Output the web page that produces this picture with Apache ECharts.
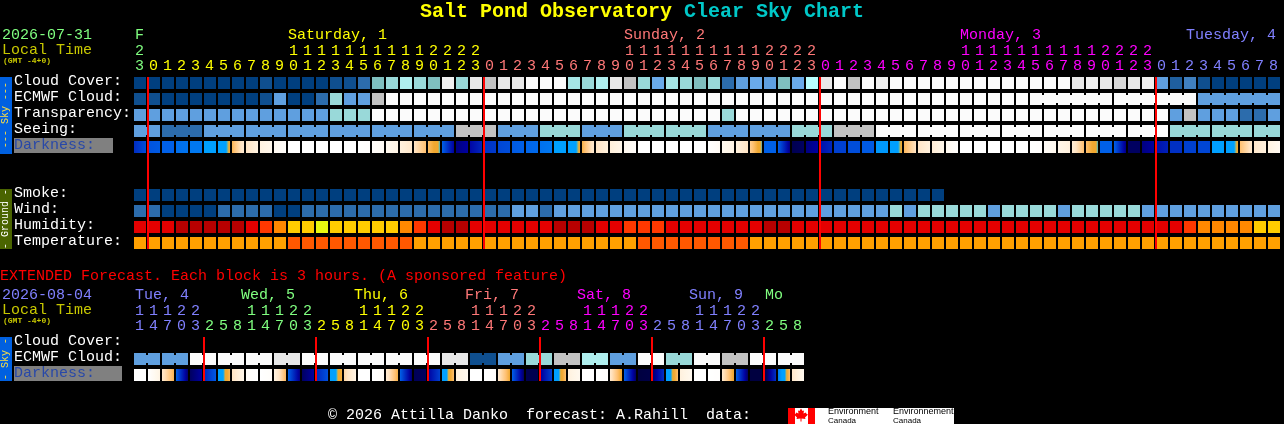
<!DOCTYPE html>
<html><head><meta charset="utf-8">
<style>html,body{margin:0;padding:0;background:#000;overflow:hidden}#c{width:1284px;height:424px}</style>
<script src="https://cdn.jsdelivr.net/npm/echarts@6/dist/echarts.min.js"></script>
</head><body><div id="c"></div>
<script>
// ---------- top forecast data (one entry per hour block) ----------
const rowNames = ["Cloud Cover:","ECMWF Cloud:","Transparency:","Seeing:","Darkness:","","","Smoke:","Wind:","Humidity:","Temperature:"];
const hourOnes = "3012345678901234567890123012345678901234567890123012345678901234567890123012345678".split("");
const hourTens = "2          11111111112222          11111111112222          11111111112222         ".split("");
const dayStarts = [1,25,49,73];
const cloudCover = [0,0,0,0,0,0,0,0,0,10,0,0,0,0,10,10,20,50,60,70,60,50,95,60,90,80,90,90,100,100,100,65,60,70,90,80,60,45,65,60,50,60,20,40,45,40,50,45,75,90,100,80,100,95,100,100,100,100,100,100,100,100,100,100,100,100,100,90,95,90,85,90,95,40,15,30,10,0,0,0,0,0];
const ecmwfCloud = [10,10,0,0,0,0,0,0,0,10,40,0,0,20,60,40,40,80,100,100,100,100,100,100,100,100,100,100,100,100,100,100,100,100,100,100,100,100,100,100,100,100,100,100,100,100,100,100,100,100,100,100,100,100,100,100,100,100,100,100,100,100,100,100,100,100,100,100,100,100,100,100,100,100,100,100,40,40,40,40,40,40];
const ecmwfBlocks = [1,1,1,1,1,1,1,1,1,1,1,1,1,1,1,1,1,1,1,1,1,1,1,1,1,1,1,1,1,1,1,1,1,1,1,1,1,1,1,1,1,1,1,1,1,1,1,1,1,1,1,1,1,1,1,1,1,1,1,1,1,1,1,1,6,6,6];
const transparency = [40,40,40,40,40,40,40,40,40,40,40,40,40,40,60,60,60,100,100,100,100,100,100,100,100,100,100,100,100,100,100,100,100,100,100,100,100,100,100,100,100,100,60,100,100,100,100,100,100,100,100,100,100,100,100,100,100,100,100,100,100,100,100,100,100,100,100,100,100,100,100,100,100,100,40,80,40,40,40,20,20,40];
const seeing = [40,40,20,20,20,40,40,40,40,40,40,40,40,40,40,40,40,40,40,40,40,40,40,80,80,80,40,40,40,60,60,60,40,40,40,60,60,60,60,60,60,40,40,40,40,40,40,60,60,60,80,80,80,100,100,100,100,100,100,100,100,100,100,100,100,100,100,100,100,100,100,100,100,100,60,60,60,60,60,60,60,60];
const seeingBlocks = [2,3,3,3,3,3,3,3,3,3,3,3,3,3,3,3,3,3,3,3,3,3,3,3,3,3,3,2];
const darkStart = [8.6,7.4,7,6.4,6,5,5,3.3,2,1.1,0.5,0,0,0,0,0,0,0.2,0.6,1.2,2,3.1,7,10.5,9.8,8.4,7.8,7.2,6.8,6.3,5,5,3.4,2,1.3,0.6,0,0,0,0,0,0,0.6,1.2,2.6,7,7,11.5,10.5,9.5,8,7.6,7.2,5.2,5,3.2,1.9,1.5,0.6,0,0,0,0,0,0,0.3,0.8,1.5,3,7,7,11,10.5,9.5,8.5,8,7.8,5,5,3,1.8,1.1];
const darkEnd = [7.6,7.2,7,6.2,6,5,3.8,1.6,1.1,0.7,0.2,0,0,0,0,0,0.1,0.4,1,1.8,3,4.1,10,10,8.8,8.2,7.6,7,6.6,6,5,3.8,1.7,1.2,0.8,0.2,0,0,0,0,0,0.4,1,2,4.1,7,10.5,11,10,8.8,8,7.6,7.2,5.2,3.8,2,1.2,0.8,0.1,0,0,0,0,0,0.1,0.6,1.2,3,4.1,7,10.5,11,10,9,8.5,8,7.8,5,3.8,1.8,1.2,0.5];
const smoke = [0,0,0,0,0,0,0,0,0,0,0,0,0,0,0,0,0,0,0,0,0,0,0,0,0,0,0,0,0,0,0,0,0,0,0,0,0,0,0,0,0,0,0,0,0,0,0,0,0,0,0,0,0,0,0,0,0,0,null,null,null,null,null,null,null,null,null,null,null,null,null,null,null,null,null,null,null,null,null,null,null,null];
const wind = [20,20,0,0,0,0,20,20,20,20,0,0,20,20,20,20,20,20,20,20,20,20,20,20,20,20,20,40,40,20,40,40,40,40,40,40,40,40,40,40,40,40,40,40,40,40,40,40,40,40,40,40,40,40,60,40,60,60,60,60,60,40,60,60,60,60,40,60,60,60,60,60,40,40,40,40,40,40,40,40,40,40];
const humidity = [93,93,93,100,100,100,100,100,93,85,78,68,68,58,68,68,68,68,68,78,85,93,100,100,93,93,93,93,93,93,100,100,100,93,93,85,85,85,93,93,93,93,93,93,93,100,100,93,93,93,93,93,93,93,93,93,93,93,93,93,93,93,93,93,93,93,93,93,93,93,93,93,93,93,93,85,78,78,78,78,68,68];
const temperature = [24,24,24,24,24,24,24,24,24,24,24,27,27,27,27,27,27,27,27,27,24,24,24,24,24,24,24,24,24,24,24,24,24,24,24,24,27,27,27,27,27,27,27,27,24,24,24,24,24,24,24,24,24,24,24,24,24,24,24,24,24,24,24,24,24,24,24,24,24,24,24,24,24,24,24,24,24,24,24,24,24,24];
const topDayLabels = ["F","Saturday, 1","Sunday, 2","Monday, 3","Tuesday, 4"];

// ---------- extended forecast data (3-hour blocks) ----------
const extRowNames = ["Cloud Cover:","ECMWF Cloud:","Darkness:"];
const extHourOnes = "147032581470325814703258147032581470325814703258".split("");
const extHourTens = "11122   11122   11122   11122   11122   11122   ".split("");
const extDayStarts = [5,13,21,29,37,45];
const extEcmwf = [40,40,40,40,100,100,100,100,100,100,90,90,100,100,100,100,100,100,100,100,100,100,90,90,10,10,40,40,60,60,80,80,70,70,40,40,100,100,60,60,100,100,80,80,100,100,100,100];
const extEcmwfBlocks = [2,2,2,2,2,2,2,2,2,2,2,2,2,2,2,2,2,2,2,2,2,2,2,2];
const extDarkStart = [0,0,1.8,7,11,8.8,5,2,0.2,0,1,7,11,8.8,5,2.4,0,0,1.6,7,11.3,10,5,1.2,0,0,1.8,7,11.5,10.2,5,1.2,0,0,1.8,7,12,11,5,1.2,0,0,1.8,7,12,11.8,6,1.8];
const extDarkEnd = [0,1,3.3,10.8,10,7.2,3.2,0.8,0,0.2,3.2,10.5,10,7.5,3.4,1,0,0.3,3.4,10.8,11,8,3,0.6,0,0.2,3.6,11,11.5,8,3,0.6,0,0.1,3.7,11,11.8,8.5,3,0.6,0,0.1,3.7,11,12,8.5,3,0.6];
const extDayLabels = ["Tue, 4","Wed, 5","Thu, 6","Fri, 7","Sat, 8","Sun, 9","Mo"];

// ---------- styles ----------
const MONO = '"Liberation Mono"';
const skyColors = {0:'#003F7F',10:'#0F4F8F',15:'#1F5F9F',20:'#2C6CAC',30:'#4080C0',40:'#5F9FDF',45:'#6AAAEA',50:'#7FBFBF',60:'#99D9D9',65:'#A5E5E5',70:'#AFEFEF',75:'#B8FFFF',80:'#C2C2C2',85:'#D8D8D8',90:'#E8E8E8',95:'#F0F0F0',100:'#FBFBFB'};
const humidityColors = {100:'#B80000',93:'#E40000',85:'#FF3800',78:'#FF8800',68:'#FFCC00',58:'#E8F810'};
const temperatureColors = {24:'#FFA000',27:'#FF5800'};
const darkStops = [[0,[255,255,255]],[1,[255,244,228]],[2,[255,228,196]],[3,[255,192,112]],[3.6,[240,168,48]],[3.95,[240,168,48]],[4.05,[112,192,160]],[4.15,[0,160,255]],[5,[0,160,255]],[6,[0,120,240]],[7,[0,96,232]],[8,[0,64,208]],[9,[0,32,184]],[10,[0,0,160]],[11,[0,0,96]],[12,[0,0,64]]];
const DAY = {fri:'#80FF80',sat:'#FFFF00',sun:'#FF7878',mon:'#FF00FF',tue:'#8080FF'};
const topDayColors = [DAY.fri,DAY.sat,DAY.sun,DAY.mon,DAY.tue];
const extDayColors = [DAY.tue,DAY.fri,DAY.sat,DAY.sun,DAY.mon,DAY.tue,DAY.fri];

function darkColor(v){
  for(let k=1;k<darkStops.length;k++){
    if(v<=darkStops[k][0]){
      const a=darkStops[k-1],b=darkStops[k],t=(v-a[0])/(b[0]-a[0]);
      const c=a[1].map((x,j)=>Math.round(x+(b[1][j]-x)*t));
      return 'rgb('+c.join(',')+')';
    }
  }
  return 'rgb(0,0,64)';
}
function dayIndex(i,starts){let d=0;starts.forEach(s=>{if(i>=s)d++;});return d;}

// a row of cells; blocks = lengths of linked runs of cells
function cellRow(name,ax,row,values,palette,blocks){
  const linked={};
  if(blocks){let p=0;blocks.forEach(n=>{for(let k=0;k<n-1;k++)linked[p+k]=1;p+=n;});}
  const data=[];
  values.forEach((v,i)=>{if(v!==null)data.push([i,row,v]);});
  return {type:'custom',name,xAxisIndex:ax,yAxisIndex:ax,clip:false,silent:true,data,
    encode:{x:0,y:1},
    renderItem(p,api){
      const i=api.value(0),c=api.coord([i,api.value(1)]),s=api.size([1,1]);
      const x=c[0]-s[0]/2,y=c[1]-s[1]/2+2,fill=palette[api.value(2)];
      const ch=[{type:'rect',shape:{x,y,width:12,height:12},style:{fill}}];
      if(linked[i])ch.push({type:'rect',shape:{x:x+12,y:y+2,width:2,height:8},style:{fill}});
      return {type:'group',children:ch};
    }};
}
function darkRow(ax,row,st,en){
  return {type:'custom',name:'Darkness',xAxisIndex:ax,yAxisIndex:ax,clip:false,silent:true,
    data:st.map((v,i)=>[i,row,v,en[i]]),encode:{x:0,y:1},
    renderItem(p,api){
      const c=api.coord([api.value(0),api.value(1)]),s=api.size([1,1]);
      const a=api.value(2),b=api.value(3),stops=[];
      for(let k=0;k<=12;k++)stops.push({offset:k/12,color:darkColor(a+(b-a)*k/12)});
      return {type:'rect',shape:{x:c[0]-s[0]/2,y:c[1]-s[1]/2+2,width:12,height:12},
        style:{fill:new echarts.graphic.LinearGradient(0,0,1,0,stops)}};
    }};
}
function dayLines(ax,starts,first,last){
  return {type:'custom',name:'Midnight',xAxisIndex:ax,yAxisIndex:ax,clip:false,silent:true,z:5,
    data:starts.map(i=>[i,first]),encode:{x:0,y:1},
    renderItem(p,api){
      const i=api.value(0),a=api.coord([i,first]),b=api.coord([i,last]),s=api.size([1,1]);
      return {type:'rect',shape:{x:a[0]-s[0]/2-1,y:a[1]-s[1]/2+2,width:2,height:b[1]-a[1]+12},style:{fill:'#FF0000'}};
    }};
}
function xAx(grid,labels,starts,colors,offset){
  return {type:'category',gridIndex:grid,position:'top',offset,data:labels,boundaryGap:true,
    axisLine:{show:false},axisTick:{show:false},splitLine:{show:false},
    axisLabel:{interval:0,hideOverlap:false,margin:1,padding:[0,3,0,0],fontFamily:MONO,fontSize:15,lineHeight:15,
      color:(v,i)=>colors[dayIndex(i,starts)]}};
}
function yAx(grid,names,darkWidth){
  return {type:'category',gridIndex:grid,inverse:true,data:names,
    axisLine:{show:false},axisTick:{show:false},splitLine:{show:false},
    axisLabel:{interval:0,align:'left',margin:120,fontFamily:MONO,fontSize:15,color:'#FFFFFF',padding:[0,0,3,0],
      formatter:v=>v==='Darkness:'?'{d|Darkness:}':v,
      rich:{d:{fontFamily:MONO,fontSize:15,color:'#2848A8',backgroundColor:'#808080',width:darkWidth,height:15,lineHeight:15}}}};
}
function txt(x,y,text,fill,size,extra){
  return Object.assign({type:'text',x,y,silent:true,style:Object.assign({text,fill,font:(size||'15px')+' '+MONO,textVerticalAlign:'middle'},extra||{})});
}
function vtxt(cx,cy,text,fill){
  return {type:'text',x:cx,y:cy,rotation:Math.PI/2,silent:true,style:{text,fill,font:'10px '+MONO,textAlign:'center',textVerticalAlign:'middle'}};
}
const rect=(x,y,w,h,fill)=>({type:'rect',shape:{x,y,width:w,height:h},silent:true,style:{fill}});

const topDayX=[135,288,624,960,1186];
const extDayX=[135,241,354,465,577,689,765];
const leaf=[[801,408.5],[802.5,411],[804,410.5],[803.5,413.5],[806,412.5],[806.5,414],[808,414.5],[805,417.5],[805.5,419],[801.5,418.5],[801.5,421.5],[800.5,421.5],[800.5,418.5],[796.5,419],[797,417.5],[794,414.5],[795.5,414],[796,412.5],[798.5,413.5],[798,410.5],[799.5,411]];

const graphics=[
  txt(420,12,'Salt Pond Observatory','#FFFF00','bold 20px'),
  txt(684,12,'Clear Sky Chart','#00C8C8','bold 20px'),
  txt(2,35,'2026-07-31','#80FF80'),
  txt(2,50,'Local Time','#C8C800'),
  txt(3,61,'(GMT -4+0)','#C8C800','bold 8px'),
  rect(0,77,12,77,'#0060E0'),vtxt(5.5,115,'--- Sky ---','#FFE040'),
  rect(0,189,12,60,'#4A6400'),vtxt(5.5,219,'- Ground -','#FFFFFF'),
  txt(0,276,'EXTENDED Forecast. Each block is 3 hours. (A sponsored feature)','#FF0000'),
  txt(2,295,'2026-08-04','#8080FF'),
  txt(2,310,'Local Time','#C8C800'),
  txt(3,321,'(GMT -4+0)','#C8C800','bold 8px'),
  rect(0,337,12,44,'#0060E0'),vtxt(5.5,359,'- Sky -','#FFE040'),
  txt(328,415,'© 2026 Attilla Danko  forecast: A.Rahill  data:','#FFFFFF'),
  rect(788,408,166,16,'#FFFFFF'),rect(788,408,7,16,'#FF0000'),rect(808,408,7,16,'#FF0000'),
  {type:'polygon',silent:true,shape:{points:leaf},style:{fill:'#FF0000'}},
  {type:'text',x:828,y:412,silent:true,style:{text:'Environment',fill:'#000',font:'9px "Liberation Sans"',textVerticalAlign:'middle'}},
  {type:'text',x:828,y:420.5,silent:true,style:{text:'Canada',fill:'#000',font:'8px "Liberation Sans"',textVerticalAlign:'middle'}},
  {type:'text',x:893,y:412,silent:true,style:{text:'Environnement',fill:'#000',font:'9px "Liberation Sans"',textVerticalAlign:'middle'}},
  {type:'text',x:893,y:420.5,silent:true,style:{text:'Canada',fill:'#000',font:'8px "Liberation Sans"',textVerticalAlign:'middle'}}
];
topDayLabels.forEach((t,i)=>graphics.push(txt(topDayX[i],35,t,topDayColors[i])));
extDayLabels.forEach((t,i)=>graphics.push(txt(extDayX[i],295,t,extDayColors[i])));

const chart=echarts.init(document.getElementById('c'),null,{renderer:'canvas',width:1284,height:424});
chart.setOption({
  backgroundColor:'#000000',animation:false,
  grid:[{left:134,top:75,width:1148,height:176},{left:134,top:335,width:672,height:48}],
  xAxis:[xAx(0,hourOnes,dayStarts,topDayColors,0),xAx(0,hourTens,dayStarts,topDayColors,15),
         xAx(1,extHourOnes,extDayStarts,extDayColors,0),xAx(1,extHourTens,extDayStarts,extDayColors,15)],
  yAxis:[yAx(0,rowNames,99),yAx(1,extRowNames,108)],
  series:[
    cellRow('Cloud Cover',0,0,cloudCover,skyColors),
    cellRow('ECMWF Cloud',0,1,ecmwfCloud,skyColors,ecmwfBlocks),
    cellRow('Transparency',0,2,transparency,skyColors),
    cellRow('Seeing',0,3,seeing,skyColors,seeingBlocks),
    darkRow(0,4,darkStart,darkEnd),
    cellRow('Smoke',0,7,smoke,skyColors),
    cellRow('Wind',0,8,wind,skyColors),
    cellRow('Humidity',0,9,humidity,humidityColors),
    cellRow('Temperature',0,10,temperature,temperatureColors),
    dayLines(0,dayStarts,0,10),
    Object.assign(cellRow('Extended ECMWF Cloud',1,1,extEcmwf,skyColors,extEcmwfBlocks),{xAxisIndex:2,yAxisIndex:1}),
    Object.assign(darkRow(1,2,extDarkStart,extDarkEnd),{xAxisIndex:2,yAxisIndex:1}),
    Object.assign(dayLines(1,extDayStarts,0,2),{xAxisIndex:2,yAxisIndex:1})
  ],
  graphic:graphics
});
</script></body></html>
